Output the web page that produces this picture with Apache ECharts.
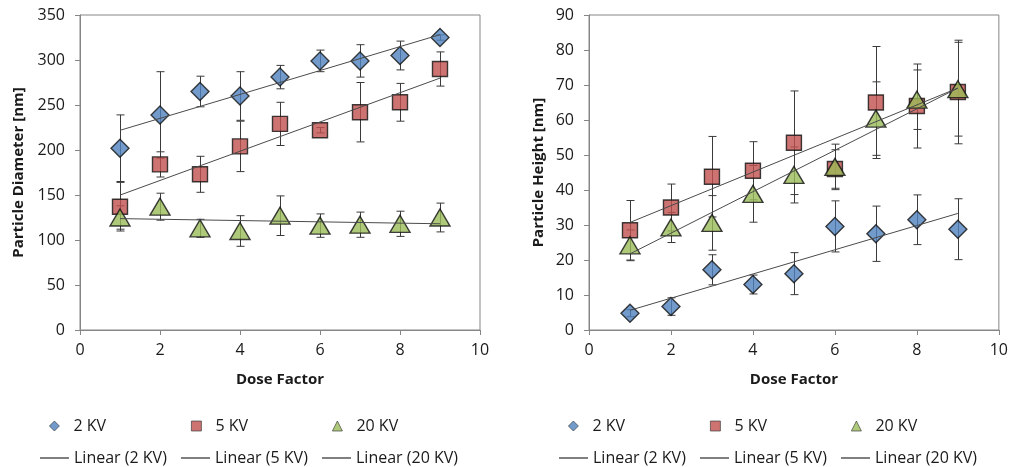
<!DOCTYPE html>
<html>
<head>
<meta charset="utf-8">
<script src="https://cdn.jsdelivr.net/npm/echarts@6/dist/echarts.min.js"></script>
<style>
  html, body { margin: 0; padding: 0; background: #fff; }
  #chart { width: 1011px; height: 467px; }
</style>
</head>
<body>
<div id="chart"></div>
<script>
// dose factor (x values, shared by both panels)
var dose = [1, 2, 3, 4, 5, 6, 7, 8, 9];

// left panel: particle diameter [nm] and error bars (+/-)
var diam2kv = [202, 239, 265, 260, 281, 299, 299, 305, 325];
var diam2kvErr = [37, 48, 17, 27, 13, 12, 18, 16, 3];
var diam5kv = [137, 184, 173, 204, 229, 222, 242, 253, 290];
var diam5kvErr = [27, 14, 20, 28, 24, 3, 33, 21, 19];
var diam20kv = [125, 137, 113, 110, 127, 116, 117, 118, 125];
var diam20kvErr = [13, 15, 10, 17, 22, 13, 14, 14, 16];

// right panel: particle height [nm] and error bars (+/-)
var height2kv = [4.8, 6.7, 17.2, 13, 16.1, 29.6, 27.5, 31.5, 28.8];
var height2kvErr = [1, 2.5, 4.3, 2.7, 6, 7.3, 7.9, 7.1, 8.7];
var height5kv = [28.5, 35, 43.8, 45.5, 53.5, 46, 65, 64, 68];
var height5kvErr = [8.5, 6.7, 11.5, 8.3, 14.8, 5.5, 16, 12, 14.8];
var height20kv = [24.2, 29.3, 30.6, 38.9, 44.3, 46.6, 60.4, 65.8, 68.8];
var height20kvErr = [4.4, 4.3, 7.8, 8.1, 8, 6.5, 10.5, 8.5, 13.4];

var seriesNames = ['2 KV', '5 KV', '20 KV'];
var trendNames = ['Linear (2 KV)', 'Linear (5 KV)', 'Linear (20 KV)'];
var markerColors = ['#4F81BD', '#C0504D', '#9BBB59'];
var markerShapes = ['diamond', 'rect', 'triangle'];
var markerSizes = [[18, 18], [15, 15], [20, 17]];

var FONT = 'Open Sans';

var chart = echarts.init(document.getElementById('chart'));

// least squares line, evaluated at the first and last x (like an Excel trendline)
function trendline(xs, ys) {
    var n = xs.length, sx = 0, sy = 0, sxx = 0, sxy = 0;
    for (var i = 0; i < n; i++) {
        sx += xs[i]; sy += ys[i]; sxx += xs[i] * xs[i]; sxy += xs[i] * ys[i];
    }
    var b = (n * sxy - sx * sy) / (n * sxx - sx * sx);
    var a = (sy - b * sx) / n;
    return [[xs[0], a + b * xs[0]], [xs[n - 1], a + b * xs[n - 1]]];
}

function errorSeries(vals, errs, gi) {
    return {
        type: 'custom',
        xAxisIndex: gi,
        yAxisIndex: gi,
        z: 1,
        silent: true,
        data: dose.map(function (x, i) { return [x, vals[i] - errs[i], vals[i] + errs[i]]; }),
        encode: {x: 0, y: [1, 2]},
        renderItem: function (params, api) {
            var lo = api.coord([api.value(0), api.value(1)]);
            var hi = api.coord([api.value(0), api.value(2)]);
            var x = Math.round(lo[0]) + 0.5;
            var st = {stroke: '#3a3a3a', lineWidth: 1};
            return {
                type: 'group',
                children: [
                    {type: 'line', shape: {x1: x, y1: lo[1], x2: x, y2: hi[1]}, style: st},
                    {type: 'line', shape: {x1: x - 4, y1: lo[1], x2: x + 4, y2: lo[1]}, style: st},
                    {type: 'line', shape: {x1: x - 4, y1: hi[1], x2: x + 4, y2: hi[1]}, style: st}
                ]
            };
        }
    };
}

function markerSeries(k, vals, gi) {
    return {
        name: seriesNames[k],
        type: 'scatter',
        xAxisIndex: gi,
        yAxisIndex: gi,
        z: 2,
        symbol: markerShapes[k],
        symbolSize: markerSizes[k],
        itemStyle: {color: markerColors[k], borderColor: '#111', borderWidth: 1.4},
        data: dose.map(function (x, i) { return [x, vals[i]]; })
    };
}

function trendSeries(k, vals, gi) {
    return {
        name: trendNames[k],
        type: 'line',
        xAxisIndex: gi,
        yAxisIndex: gi,
        z: 3,
        symbol: 'none',
        silent: true,
        lineStyle: {color: '#4a4a4a', width: 1},
        data: trendline(dose, vals)
    };
}

var leftSets = [[diam2kv, diam2kvErr], [diam5kv, diam5kvErr], [diam20kv, diam20kvErr]];
var rightSets = [[height2kv, height2kvErr], [height5kv, height5kvErr], [height20kv, height20kvErr]];

var series = [];
[leftSets, rightSets].forEach(function (sets, gi) {
    sets.forEach(function (s) { series.push(errorSeries(s[0], s[1], gi)); });
    sets.forEach(function (s, k) { series.push(markerSeries(k, s[0], gi)); });
    sets.forEach(function (s, k) { series.push(trendSeries(k, s[0], gi)); });
});

// one legend per item so each sits where the original puts it
var legendIconCenters = [54, 196, 337];
var legendLineLefts = [40, 181, 322];
var legendOffsets = [0, 519];
var legends = [];
legendOffsets.forEach(function (off) {
    for (var k = 0; k < 3; k++) {
        legends.push({
            left: off + legendIconCenters[k] - 5,
            top: 418,
            padding: 0,
            itemWidth: 10,
            itemHeight: 10,
            selectedMode: false,
            textStyle: {fontFamily: FONT, fontSize: 16, color: '#1a1a1a', padding: [0, 0, 0, 9]},
            data: [{name: seriesNames[k], icon: markerShapes[k],
                itemStyle: {color: markerColors[k], borderColor: '#333', borderWidth: 0.8}}]
        });
        legends.push({
            left: off + legendLineLefts[k],
            top: 450,
            padding: 0,
            itemWidth: 29,
            itemHeight: 1,
            selectedMode: false,
            textStyle: {fontFamily: FONT, fontSize: 16, color: '#1a1a1a'},
            data: [{name: trendNames[k], icon: 'rect', itemStyle: {color: '#000'}}]
        });
    }
});

function xAxisOpt(gi) {
    return {
        type: 'value', gridIndex: gi, min: 0, max: 10, interval: 2,
        name: 'Dose Factor', nameLocation: 'middle', nameGap: 42,
        nameTextStyle: {fontFamily: FONT, fontSize: 15, fontWeight: 'bold', color: '#1a1a1a'},
        axisLine: {show: true, lineStyle: {color: '#868686'}},
        axisTick: {show: true, length: 5, lineStyle: {color: '#868686'}},
        axisLabel: {fontFamily: FONT, fontSize: 16, color: '#1a1a1a', margin: 12},
        splitLine: {show: false}
    };
}

function yAxisOpt(gi, name, max, interval, gap) {
    return {
        type: 'value', gridIndex: gi, min: 0, max: max, interval: interval,
        name: name, nameLocation: 'middle', nameGap: gap,
        nameTextStyle: {fontFamily: FONT, fontSize: 15, fontWeight: 'bold', color: '#1a1a1a'},
        axisLine: {show: true, lineStyle: {color: '#868686'}},
        axisTick: {show: true, length: 5, lineStyle: {color: '#868686'}},
        axisLabel: {fontFamily: FONT, fontSize: 16, color: '#1a1a1a', margin: 15},
        splitLine: {show: false}
    };
}

chart.setOption({
    animation: false,
    grid: [
        {left: 80, right: 531, top: 15, height: 315, show: true, borderColor: '#868686', borderWidth: 1, containLabel: false},
        {left: 589, right: 12, top: 15, height: 315, show: true, borderColor: '#868686', borderWidth: 1, containLabel: false}
    ],
    legend: legends,
    xAxis: [xAxisOpt(0), xAxisOpt(1)],
    yAxis: [
        yAxisOpt(0, 'Particle Diameter [nm]', 350, 50, 54),
        yAxisOpt(1, 'Particle Height [nm]', 90, 10, 43)
    ],
    series: series
});
</script>
</body>
</html>
